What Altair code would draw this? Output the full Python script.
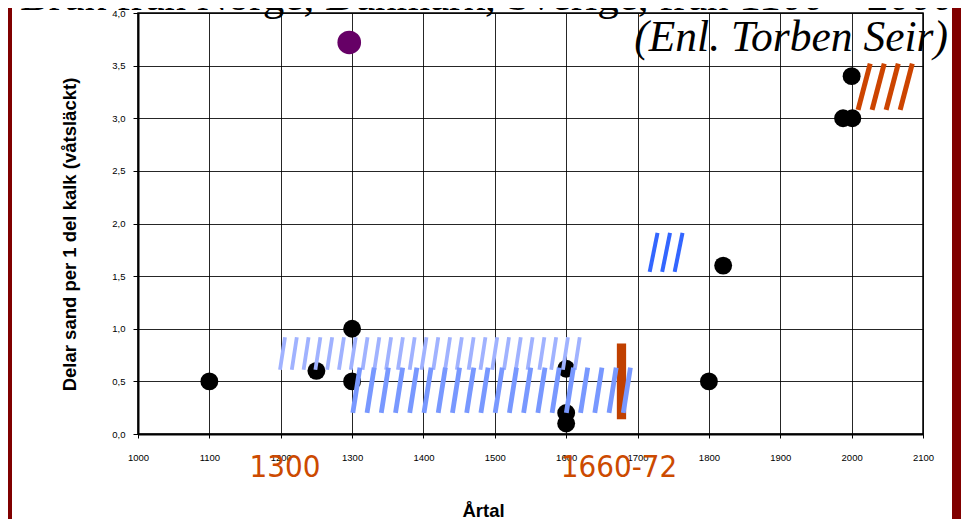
import altair as alt
import pandas as pd
import numpy as np

# ---- data ----
pt_year = [1100, 1250, 1300, 1300, 1600, 1600, 1600, 1800, 1820, 1988, 2001, 2000]
pt_ratio = [0.5, 0.6, 1.0, 0.5, 0.62, 0.2, 0.1, 0.5, 1.6, 3.0, 3.0, 3.4]

purple_year = [1296]
purple_ratio = [3.72]

# hatched ranges: first stroke year, last stroke year, low / high ratio, number of strokes
band_from = [1199, 1301, 1717, 2009]
band_to = [1612, 1680, 1752, 2068]
band_low = [0.61, 0.20, 1.54, 3.08]
band_high = [0.92, 0.63, 1.91, 3.52]
band_count = [26, 20, 3, 4]
band_slant = [7, 10, 11, 17]          # years the stroke leans at its top
band_color = ["#a0b2ff", "#7898ff", "#3366ff", "#cc4400"]
band_width = [3.8, 4.8, 4.0, 5.0]

bar_from = [1671]
bar_to = [1684]
bar_low = [0.14]
bar_high = [0.86]

label_text = ["1300", "1660-72"]
label_year = [1206, 1674]

x_ticks = list(range(1000, 2101, 100))
y_ticks = [0.0, 0.5, 1.0, 1.5, 2.0, 2.5, 3.0, 3.5, 4.0]

# ---- tables ----
pts = pd.DataFrame({"year": pt_year, "ratio": pt_ratio})
purple = pd.DataFrame({"year": purple_year, "ratio": purple_ratio})

rows = []
for f, t, lo, hi, n, s, c, w in zip(band_from, band_to, band_low, band_high,
                                     band_count, band_slant, band_color, band_width):
    for yr in np.linspace(f, t, n):
        rows.append({"year": yr, "year2": yr + s, "ratio": lo, "ratio2": hi,
                     "color": c, "w": w})
hatch = pd.DataFrame(rows)

bar = pd.DataFrame({"year": bar_from, "year2": bar_to, "ratio": bar_low, "ratio2": bar_high})
labels = pd.DataFrame({"year": label_year, "label": label_text})

xs = alt.Scale(domain=[1000, 2100], nice=False, zero=False)
ys = alt.Scale(domain=[0, 4], nice=False, zero=True)

x_axis = alt.Axis(values=x_ticks, format="d", labelFont="Liberation Sans", labelFontSize=9.5,
                  labelColor="#000", labelPadding=14, labelFlush=False, labelOverlap=False,
                  tickSize=4, tickColor="#000", tickWidth=1,
                  domainColor="#000", domainWidth=2,
                  grid=True, gridColor="#000", gridWidth=1, gridOpacity=0.85,
                  title="Årtal", titleFont="Liberation Sans", titleFontSize=18.5,
                  titleFontWeight="bold", titleColor="#000",
                  titleX=345, titleY=82, titleBaseline="alphabetic", titleAlign="center")
y_axis = alt.Axis(values=y_ticks, labelExpr="replace(format(datum.value, '.1f'), '.', ',')",
                  labelFont="Liberation Sans", labelFontSize=9.5, labelColor="#000",
                  labelPadding=8, labelFlush=False, labelOverlap=False,
                  tickSize=5, tickColor="#000", tickWidth=1,
                  domainColor="#000", domainWidth=2,
                  grid=True, gridColor="#000", gridWidth=1, gridOpacity=0.85,
                  title="Delar sand per 1 del kalk (våtsläckt)", titleFont="Liberation Sans",
                  titleFontSize=18.5, titleFontWeight="bold", titleColor="#000",
                  titleAngle=-90, titleX=-69, titleY=221, titleBaseline="middle",
                  titleAlign="center")

X = alt.X("year:Q", scale=xs, axis=x_axis, title="Årtal")
Y = alt.Y("ratio:Q", scale=ys, axis=y_axis, title="Delar sand per 1 del kalk (våtsläckt)")

dots = alt.Chart(pts).mark_circle(size=320, color="#000", opacity=1).encode(x=X, y=Y)
pdot = alt.Chart(purple).mark_circle(size=560, color="#660066", opacity=1).encode(x=X, y=Y)

orange_bar = alt.Chart(bar).mark_rect(color="#c04000").encode(
    x=X, x2="year2:Q", y=Y, y2="ratio2:Q")

strokes = alt.Chart(hatch).mark_rule(strokeCap="butt").encode(
    x=X, x2="year2:Q", y=Y, y2="ratio2:Q",
    color=alt.Color("color:N", scale=None),
    strokeWidth=alt.StrokeWidth("w:Q", scale=None))

lab = alt.Chart(labels).mark_text(font="Liberation Sans Narrow, DejaVu Sans Condensed, sans-serif",
                                  fontSize=31, color="#cc4a00", baseline="alphabetic",
                                  align="center").encode(x=X, y=alt.value(464), text="label:N")

one = pd.DataFrame({"t": ["Bruk från Norge, Danmark, Sverige, från 1100 – 2000"]})
title = alt.Chart(one).mark_text(font="Liberation Serif", fontSize=43, color="#000",
                                 align="left", baseline="alphabetic").encode(
    x=alt.value(-118), y=alt.value(-3), text="t:N")

two = pd.DataFrame({"t": ["(Enl. Torben Seir)"]})
sub = alt.Chart(two).mark_text(font="Liberation Serif", fontSize=43.5, fontStyle="italic",
                               color="#000", align="right", baseline="alphabetic").encode(
    x=alt.value(810), y=alt.value(38), text="t:N")

border = pd.DataFrame({"k": ["left", "right"]})
left_border = alt.Chart(border.iloc[:1]).mark_rect(color="#800000").encode(
    x=alt.value(-130), x2=alt.value(-126), y=alt.value(-5), y2=alt.value(506))
right_border = alt.Chart(border.iloc[1:]).mark_rect(color="#800000").encode(
    x=alt.value(814), x2=alt.value(823), y=alt.value(-5), y2=alt.value(506))

chart = alt.layer(dots, pdot, orange_bar, strokes, lab, title, sub, left_border, right_border).properties(
    width=785, height=421,
    autosize=alt.AutoSizeParams(type="none"),
    padding={"left": 130, "top": 5, "right": 38, "bottom": 85},
    background="#ffffff",
).configure_view(stroke="#000", strokeWidth=1.5)

chart.save("out.html", embed_options={"renderer": "svg", "actions": False})
